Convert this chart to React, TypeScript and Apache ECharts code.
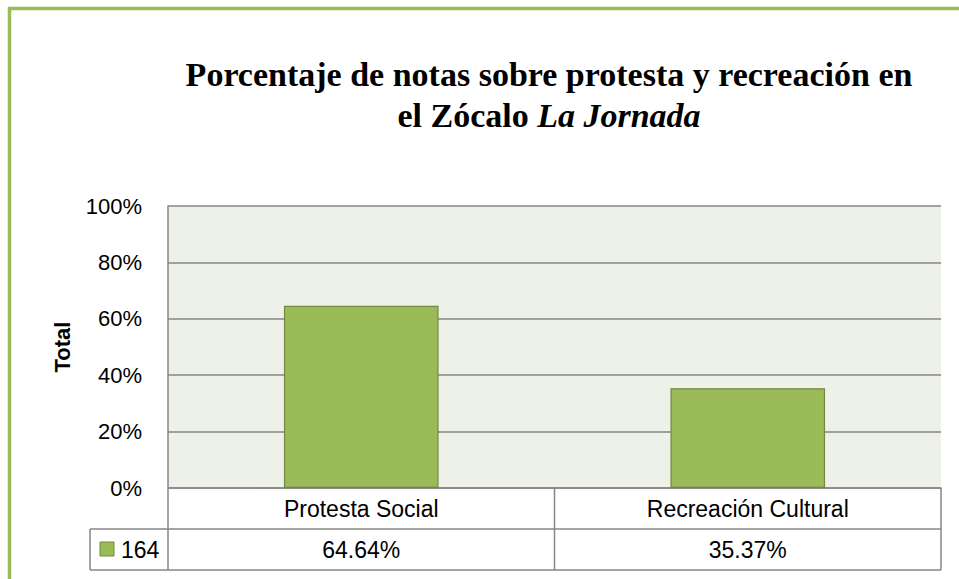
import React, { useEffect, useRef } from "react";
import * as echarts from "echarts";

const categories = ["Protesta Social", "Recreación Cultural"];
const values = [0.6464, 0.3537];
const valueLabels = ["64.64%", "35.37%"];
const seriesName = "164";
const yTicks = [0, 0.2, 0.4, 0.6, 0.8, 1];

const W = 959;
const H = 579;
const GL = 168;
const GR = 941;
const GT = 206;
const GB = 488;
const ROW = 41;
const LEG_L = 90;
const GRID_C = "#868686";
const GREEN = "#9BBB59";
const FONT = "'Liberation Sans', Arial, sans-serif";
const FS = 23;

export default function App() {
  const ref = useRef<HTMLDivElement>(null);
  useEffect(() => {
    if (!ref.current) return;
    const chart = echarts.init(ref.current, undefined, { renderer: "svg" });
    const colW = (GR - GL) / categories.length;
    const graphics: any[] = [];
    // frame
    graphics.push({ type: "line", shape: { x1: 8, y1: 8.5, x2: W, y2: 8.5 }, style: { stroke: GREEN, lineWidth: 3.5 } });
    graphics.push({ type: "line", shape: { x1: 9.5, y1: 7, x2: 9.5, y2: H }, style: { stroke: GREEN, lineWidth: 3.5 } });
    // table lines
    const ln = (x1: number, y1: number, x2: number, y2: number) =>
      graphics.push({ type: "line", z: 10, shape: { x1, y1, x2, y2 }, style: { stroke: GRID_C, lineWidth: 1.5 } });
    ln(LEG_L, GB + ROW, GR, GB + ROW);
    ln(LEG_L, GB + 2 * ROW, GR, GB + 2 * ROW);
    ln(LEG_L, GB + ROW, LEG_L, GB + 2 * ROW);
    ln(GL, GB, GL, GB + 2 * ROW);
    ln(GR, GB, GR, GB + 2 * ROW);
    for (let i = 1; i < categories.length; i++) ln(GL + colW * i, GB, GL + colW * i, GB + 2 * ROW);
    // legend key
    graphics.push({ type: "rect", shape: { x: 100, y: 542, width: 14, height: 14 }, style: { fill: GREEN, stroke: "#71893F", lineWidth: 1 } });
    graphics.push({ type: "text", x: 121, y: GB + ROW * 1.5, style: { text: seriesName, font: `${FS}px ${FONT}`, fill: "#000", verticalAlign: "middle", align: "left" } });
    valueLabels.forEach((v, i) => {
      graphics.push({ type: "text", x: GL + colW * (i + 0.5), y: GB + ROW * 1.5, style: { text: v, font: `${FS}px ${FONT}`, fill: "#000", verticalAlign: "middle", align: "center" } });
    });

    chart.setOption({
      animation: false,
      backgroundColor: "#fff",
      title: {
        text: "Porcentaje de notas sobre protesta y recreación en\nel Zócalo {i|La Jornada}",
        left: 544,
        top: 49,
        textAlign: "center",
        textStyle: {
          fontFamily: "'Liberation Serif', 'DejaVu Serif', serif",
          fontWeight: "bold",
          fontSize: 34,
          lineHeight: 41,
          color: "#000",
          rich: {
            i: {
              fontFamily: "'Liberation Serif', 'DejaVu Serif', serif",
              fontWeight: "bold",
              fontStyle: "italic",
              fontSize: 34,
              lineHeight: 41,
              color: "#000",
            },
          },
        },
      },
      grid: {
        left: GL,
        right: W - GR,
        top: GT,
        bottom: H - GB,
        show: true,
        backgroundColor: "#EEF1E8",
        borderWidth: 0,
      },
      xAxis: {
        type: "category",
        data: categories,
        axisLine: { show: true, lineStyle: { color: GRID_C, width: 1.5 } },
        axisTick: { show: false },
        axisLabel: {
          margin: 21,
          verticalAlign: "middle",
          fontFamily: FONT,
          fontSize: FS,
          color: "#000",
        },
      },
      yAxis: {
        type: "value",
        min: 0,
        max: 1,
        interval: 0.2,
        name: "Total",
        nameLocation: "middle",
        nameGap: 95,
        nameTextStyle: { fontFamily: FONT, fontWeight: "bold", fontSize: FS - 1, color: "#000" },
        axisLine: { show: true, lineStyle: { color: GRID_C, width: 1.5 } },
        axisTick: { show: false },
        splitLine: { show: true, lineStyle: { color: GRID_C, width: 1.5 } },
        axisLabel: {
          margin: 26,
          fontFamily: FONT,
          fontSize: FS - 1,
          color: "#000",
          formatter: (v: number) => (yTicks.includes(Math.round(v * 10) / 10) ? `${Math.round(v * 100)}%` : ""),
        },
      },
      series: [
        {
          type: "bar",
          name: seriesName,
          data: values,
          barWidth: "40%",
          itemStyle: { color: GREEN, borderColor: "#71893F", borderWidth: 1.2 },
          z: 3,
        },
      ],
      graphic: graphics,
    });
    return () => chart.dispose();
  }, []);
  return <div ref={ref} style={{ position: "absolute", left: 0, top: 0, width: W, height: H }} />;
}
